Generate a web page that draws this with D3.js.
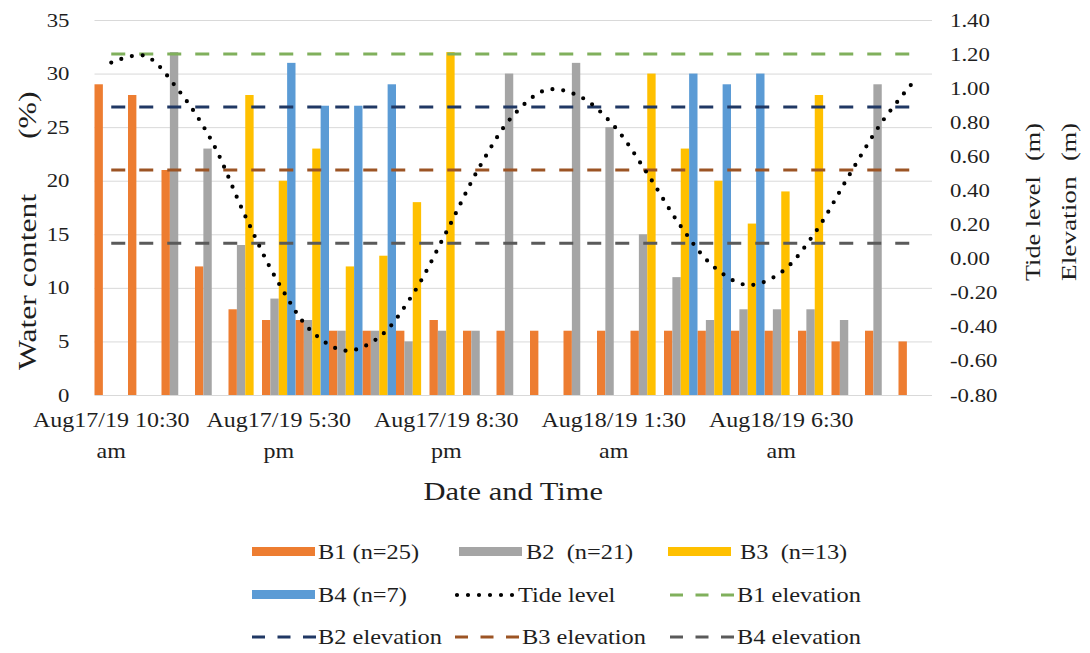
<!DOCTYPE html>
<html>
<head>
<meta charset="utf-8">
<script src="https://cdn.jsdelivr.net/npm/d3@7"></script>
<style>
  body { margin: 0; background: #ffffff; }
  text { fill: #1e1e1e; white-space: pre; }
</style>
</head>
<body>
<svg id="chart" width="1090" height="653"></svg>
<script>
// ---------------- DATA ----------------
const categories = [1,2,3,4,5,6,7,8,9,10,11,12,13,14,15,16,17,18,19,20,21,22,23,24,25];
const tickLabels = ["Aug17/19 10:30 am","","","","","Aug17/19 5:30 pm","","","","",
                    "Aug17/19 8:30 pm","","","","","Aug18/19 1:30 am","","","","",
                    "Aug18/19 6:30 am","","","",""];
const seriesNames = ["B1 (n=25)", "B2  (n=21)", "B3  (n=13)", "B4 (n=7)"];
const B1 = [29,28,21,12,8,7,7,6,6,6,7,6,6,6,6,6,6,6,6,6,6,6,5,6,5];
const B2 = [null,null,32,23,14,9,7,6,6,5,6,6,30,null,31,25,15,11,7,8,8,8,7,29,null];
const B3 = [null,null,null,null,28,20,23,12,13,18,32,null,null,null,null,null,30,23,20,16,19,28,null,null,null];
const B4 = [null,null,null,null,null,31,27,27,29,null,null,null,null,null,null,null,null,30,29,30,null,null,null,null,null];
const tideLevel = [1.15,1.19,0.99,0.69,0.25,-0.145,-0.43,-0.54,-0.46,-0.21,0.155,0.54,0.84,0.99,0.95,0.78,0.50,0.19,-0.05,-0.155,-0.08,0.15,0.48,0.80,1.05];
const elevationNames = ["B1 elevation","B2 elevation","B3 elevation","B4 elevation"];
const elevationValues = [1.20, 0.89, 0.52, 0.09];
const leftTicks = [0,5,10,15,20,25,30,35];
const rightTicks = [1.4,1.2,1.0,0.8,0.6,0.4,0.2,0.0,-0.2,-0.4,-0.6,-0.8];

// ---------------- FONT PICK ----------------
const cv = document.createElement("canvas").getContext("2d");
function w(f) { cv.font = f; return cv.measureText("Aug17/19 10:30 Date and Time").width; }
const mono = w("20px monospace");
let FONT = "serif", SX = 1.2;
if (Math.abs(w('20px "Liberation Serif", monospace') - mono) > 0.5) { FONT = '"Liberation Serif"'; SX = 1.2; }
else if (Math.abs(w('20px "Times New Roman", monospace') - mono) > 0.5) { FONT = '"Times New Roman"'; SX = 1.2; }
else if (Math.abs(w('20px "DejaVu Serif", monospace') - mono) > 0.5) { FONT = '"DejaVu Serif"'; SX = 1.0; }
d3.select("head").append("style").text(`text { font-family: ${FONT}, serif !important; }`);
const k = SX / 1.2;  // relative stretch factor

// ---------------- STYLE / LAYOUT ----------------
const barColors = ["#ED7D31","#A5A5A5","#FFC000","#5B9BD5"];
const elevColors = ["#80b05c","#203864","#9c5424","#5a5a5a"];
const L = 94.5, R = 932, T = 20, B = 395;

const svg = d3.select("#chart");
const x = d3.scaleBand().domain(categories).range([L, R]).padding(0);
const xs = d3.scaleBand().domain(seriesNames).range([0, x.bandwidth()]).padding(0);
const yL = d3.scaleLinear().domain([0, 35]).range([B, T]);
const yR = d3.scaleLinear().domain([-0.8, 1.4]).range([B, T]);

function stretch(sel, sx) {
  sel.each(function() {
    const t = d3.select(this);
    const xv = +t.attr("x") || 0;
    t.attr("x", 0).attr("transform", `translate(${xv},0) scale(${sx},1)`);
  });
}

// gridlines
const grid = svg.append("g").attr("transform", `translate(${L},0)`)
  .call(d3.axisLeft(yL).tickValues(leftTicks).tickSize(-(R - L)).tickFormat(""));
grid.select(".domain").remove();
grid.selectAll("line").attr("stroke", "#d9d9d9").attr("stroke-width", 1);

// left axis labels
const ax = svg.append("g").attr("transform", `translate(${L},0)`)
  .call(d3.axisLeft(yL).tickValues(leftTicks).tickSize(0).tickPadding(25));
ax.select(".domain").remove();
ax.selectAll("text").attr("font-size", 19).attr("fill", "#1e1e1e");
stretch(ax.selectAll("text"), 1.2 * k);

// right axis labels
const ar = svg.append("g").attr("transform", `translate(${R},0)`)
  .call(d3.axisRight(yR).tickValues(rightTicks).tickSize(0).tickPadding(18).tickFormat(d => d.toFixed(2)));
ar.select(".domain").remove();
ar.selectAll("text").attr("font-size", 19).attr("fill", "#1e1e1e");
stretch(ar.selectAll("text"), 1.2 * k);

// bars
const seriesData = [B1, B2, B3, B4];
seriesData.forEach((vals, si) => {
  svg.append("g").selectAll("rect")
    .data(vals.map((v, i) => ({ c: categories[i], v })).filter(d => d.v != null))
    .join("rect")
    .attr("x", d => x(d.c) + xs(seriesNames[si]))
    .attr("width", xs.bandwidth())
    .attr("y", d => yL(d.v))
    .attr("height", d => yL(0) - yL(d.v))
    .attr("fill", barColors[si]);
});

// elevation lines (dashed)
const cx = c => x(c) + x.bandwidth() / 2;
elevationValues.forEach((v, i) => {
  svg.append("path")
    .datum([categories[0], categories[categories.length - 1]])
    .attr("d", d3.line().x(c => cx(c)).y(() => yR(v)))
    .attr("fill", "none")
    .attr("stroke", elevColors[i])
    .attr("stroke-width", 3)
    .attr("stroke-dasharray", "14,14");
});

// tide line (round dots)
svg.append("path")
  .datum(tideLevel.map((v, i) => [cx(categories[i]), yR(v)]))
  .attr("d", d3.line().curve(d3.curveCatmullRom.alpha(0.5)))
  .attr("fill", "none")
  .attr("stroke", "#000")
  .attr("stroke-width", 4.2)
  .attr("stroke-linecap", "round")
  .attr("stroke-dasharray", "0,10.8");

// x axis labels
const axb = svg.append("g").attr("transform", `translate(0,${B})`)
  .call(d3.axisBottom(x).tickSize(0).tickFormat(""));
axb.select(".domain").remove();
axb.selectAll(".tick").each(function(c) {
  const lab = tickLabels[categories.indexOf(c)];
  if (!lab) return;
  const sp = lab.lastIndexOf(" ");
  const lines = [lab.slice(0, sp), lab.slice(sp + 1)];
  const g = d3.select(this);
  lines.forEach((ln, j) => {
    g.append("text")
      .attr("text-anchor", "middle")
      .attr("font-size", 20)
      .attr("fill", "#1e1e1e")
      .attr("transform", `translate(0,${32 + j * 31}) scale(${1.2 * k},1)`)
      .text(ln);
  });
});

// axis titles
svg.append("text").attr("text-anchor", "middle").attr("font-size", 25)
  .attr("transform", `translate(${(L + R) / 2},500) scale(${1.22 * k},1)`).text("Date and Time");

svg.append("text").attr("text-anchor", "start").attr("font-size", 26)
  .attr("transform", `translate(36,370) rotate(-90) scale(${1.22 * k},1)`).text("Water content");
svg.append("text").attr("text-anchor", "start").attr("font-size", 26)
  .attr("transform", `translate(36,139) rotate(-90) scale(${1.22 * k},1)`).text("(%)");

svg.append("text").attr("text-anchor", "start").attr("font-size", 21)
  .attr("transform", `translate(1040,281) rotate(-90) scale(${1.25 * k},1)`).text("Tide level");
svg.append("text").attr("text-anchor", "start").attr("font-size", 21)
  .attr("transform", `translate(1040,161) rotate(-90) scale(${1.25 * k},1)`).text("(m)");
svg.append("text").attr("text-anchor", "start").attr("font-size", 21)
  .attr("transform", `translate(1076,281) rotate(-90) scale(${1.3 * k},1)`).text("Elevation");
svg.append("text").attr("text-anchor", "start").attr("font-size", 21)
  .attr("transform", `translate(1076,161) rotate(-90) scale(${1.25 * k},1)`).text("(m)");

// legend
const legendItems = [
  { name: seriesNames[0], kind: "bar", color: barColors[0], row: 0, sx: 252, tx: 318 },
  { name: seriesNames[1], kind: "bar", color: barColors[1], row: 0, sx: 459, tx: 526 },
  { name: seriesNames[2], kind: "bar", color: barColors[2], row: 0, sx: 668, tx: 740 },
  { name: seriesNames[3], kind: "bar", color: barColors[3], row: 1, sx: 252, tx: 318 },
  { name: "Tide level", kind: "dot", color: "#000", row: 1, sx: 455, tx: 518 },
  { name: elevationNames[0], kind: "dash", color: elevColors[0], row: 1, sx: 670, tx: 737 },
  { name: elevationNames[1], kind: "dash", color: elevColors[1], row: 2, sx: 252, tx: 318 },
  { name: elevationNames[2], kind: "dash", color: elevColors[2], row: 2, sx: 455, tx: 522 },
  { name: elevationNames[3], kind: "dash", color: elevColors[3], row: 2, sx: 670, tx: 737 }
];
const rowY = [552, 595, 637];
const lg = svg.append("g");
legendItems.forEach(it => {
  const y = rowY[it.row];
  if (it.kind === "bar") {
    lg.append("rect").attr("x", it.sx).attr("y", y - 5).attr("width", 63).attr("height", 9).attr("fill", it.color);
  } else if (it.kind === "dot") {
    lg.append("line").attr("x1", it.sx + 2).attr("x2", it.sx + 58).attr("y1", y).attr("y2", y)
      .attr("stroke", it.color).attr("stroke-width", 4.2).attr("stroke-linecap", "round").attr("stroke-dasharray", "0,11");
  } else {
    lg.append("line").attr("x1", it.sx).attr("x2", it.sx + 64).attr("y1", y).attr("y2", y)
      .attr("stroke", it.color).attr("stroke-width", 3).attr("stroke-dasharray", "13,12.5");
  }
  lg.append("text").attr("font-size", 20).attr("dominant-baseline", "central")
    .attr("transform", `translate(${it.tx},${y}) scale(${1.22 * k},1)`).text(it.name);
});
</script>
</body>
</html>
